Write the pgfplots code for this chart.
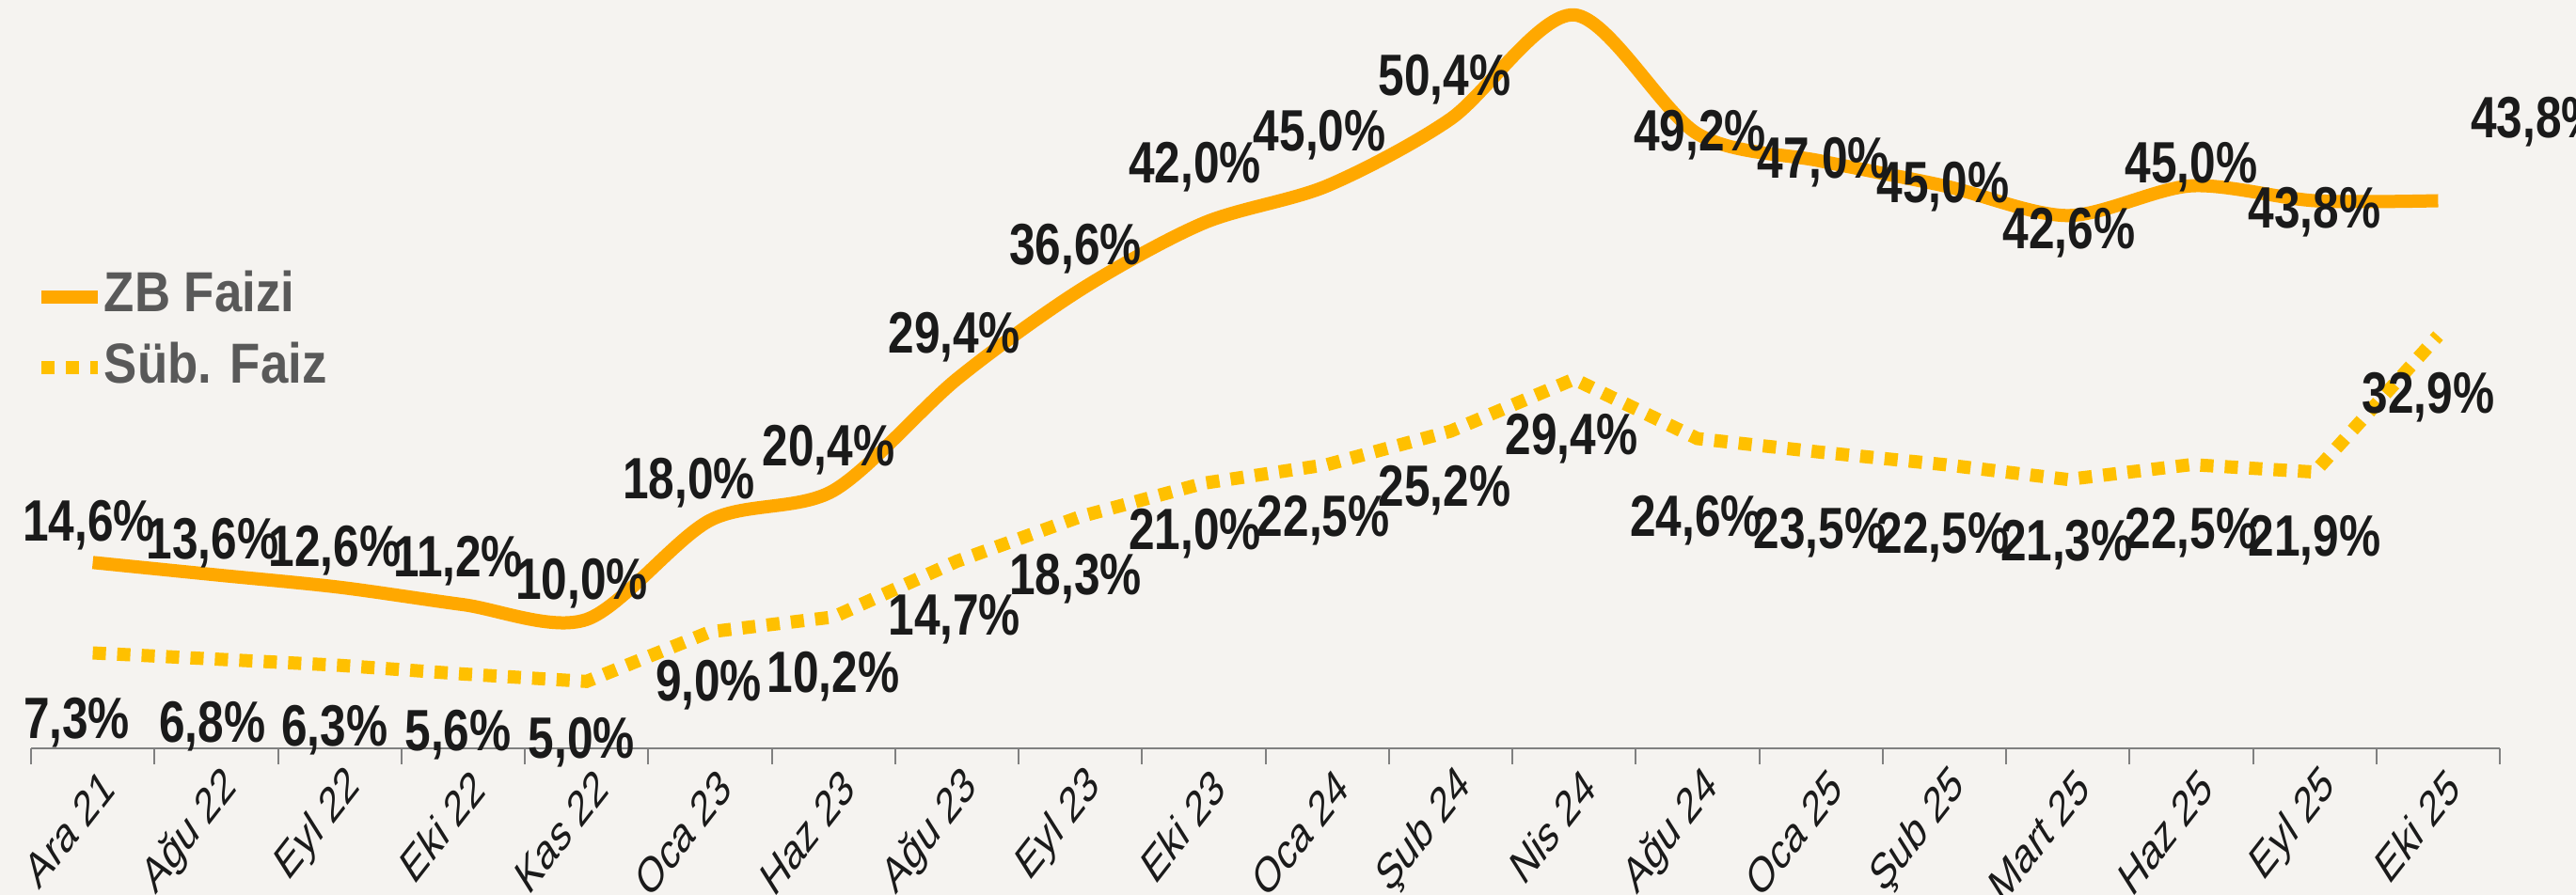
\documentclass[border=0pt]{standalone}
\usepackage{fontspec}
\setmainfont{Liberation Sans}
\usepackage{pgfplots}
\pgfplotsset{compat=1.18}
\usetikzlibrary{calc}
\pgfdeclarelayer{background}
\pgfsetlayers{background,main}
\definecolor{zbc}{RGB}{255,168,0}
\definecolor{subc}{RGB}{255,192,0}
\definecolor{bgc}{RGB}{245,243,240}
\definecolor{axc}{RGB}{128,128,128}
\definecolor{legc}{RGB}{89,89,89}
\definecolor{txt}{RGB}{26,26,26}
\newcommand{\dl}[1]{\scalebox{0.8}[1]{\fontsize{15.5}{15.5}\selectfont\bfseries #1}}
\tikzset{dlab/.style={text=txt, yshift=-2pt, inner sep=0pt}}
\begin{document}
\begin{tikzpicture}
\begin{axis}[
  scale only axis, width=656.25pt, height=199pt,
  xmin=-0.5, xmax=19.5, ymin=-0.4, ymax=60.0,
  axis x line*=bottom, axis y line=none,
  clip=false,
  xtick={0,...,19},
  xticklabels={Ara 21,Ağu 22,Eyl 22,Eki 22,Kas 22,Oca 23,Haz 23,Ağu 23,Eyl 23,Eki 23,Oca 24,Şub 24,Nis 24,Ağu 24,Oca 25,Şub 25,Mart 25,Haz 25,Eyl 25,Eki 25},
  major tick length=0pt,
  minor xtick={-0.5,0.5,...,19.5},
  minor tick length=4.2pt,
  tick align=outside,
  tick style={axc, line width=0.5pt},
  x axis line style={axc, line width=0.6pt},
  xticklabel style={font=\fontsize{13.3}{13.3}\selectfont, text=txt, xscale=0.7, rotate=42, anchor=east, inner sep=0pt, yshift=-10pt, xshift=-1pt},
  legend style={at={(0.0013,0.556)}, anchor=west, draw=none, fill=none, inner sep=0pt,
    font=\fontsize{15}{15}\selectfont\bfseries, text=legc, row sep=4.8pt,
    nodes={text height=11pt, text depth=3pt, inner sep=0pt}},
  legend cell align=left,
  legend image code/.code={\draw[#1, line cap=butt] (0pt,0pt) -- (14.9pt,0pt);},
]
\addplot[zbc, line width=3.5pt, smooth, tension=0.5, line cap=butt] coordinates {
 (0,14.6) (1,13.6) (2,12.6) (3,11.2) (4,10.0) (5,18.0) (6,20.4) (7,29.4) (8,36.6) (9,42.0)
 (10,45.0) (11,50.4) (12,58.8) (13,49.2) (14,47.0) (15,45.0) (16,42.6) (17,45.0) (18,43.8) (19,43.8)};
\addlegendentry{\scalebox{0.88}[1]{ZB Faizi}}
\addplot[subc, line width=3.5pt, dash pattern=on 3.5pt off 3pt, line cap=butt] coordinates {
 (0,7.3) (1,6.8) (2,6.3) (3,5.6) (4,5.0) (5,9.0) (6,10.2) (7,14.7) (8,18.3) (9,21.0)
 (10,22.5) (11,25.2) (12,29.4) (13,24.6) (14,23.5) (15,22.5) (16,21.3) (17,22.5) (18,21.9) (19,32.9)};
\addlegendentry{\scalebox{0.88}[1]{Süb. Faiz}}
% ZB labels
\node[dlab] at (axis cs:-0.03,18.2) {\dl{14,6\%}};
\node[dlab] at (axis cs:0.97,16.8) {\dl{13,6\%}};
\node[dlab] at (axis cs:1.96,16.2) {\dl{12,6\%}};
\node[dlab] at (axis cs:2.96,15.3) {\dl{11,2\%}};
\node[dlab] at (axis cs:3.96,13.5) {\dl{10,0\%}};
\node[dlab] at (axis cs:4.83,21.6) {\dl{18,0\%}};
\node[dlab] at (axis cs:5.96,24.3) {\dl{20,4\%}};
\node[dlab] at (axis cs:6.98,33.4) {\dl{29,4\%}};
\node[dlab] at (axis cs:7.96,40.5) {\dl{36,6\%}};
\node[dlab] at (axis cs:8.93,47.1) {\dl{42,0\%}};
\node[dlab] at (axis cs:9.94,49.7) {\dl{45,0\%}};
\node[dlab] at (axis cs:10.95,54.2) {\dl{50,4\%}};
\node[dlab] at (axis cs:13.02,49.7) {\dl{49,2\%}};
\node[dlab] at (axis cs:14.02,47.5) {\dl{47,0\%}};
\node[dlab] at (axis cs:14.99,45.5) {\dl{45,0\%}};
\node[dlab] at (axis cs:16.01,41.8) {\dl{42,6\%}};
\node[dlab] at (axis cs:17.0,47.1) {\dl{45,0\%}};
\node[dlab] at (axis cs:18.0,43.5) {\dl{43,8\%}};
\node[dlab] at (axis cs:19.8,50.8) {\dl{43,8\%}};
% Sub labels
\node[dlab] at (axis cs:-0.13,2.3) {\dl{7,3\%}};
\node[dlab] at (axis cs:0.97,2.0) {\dl{6,8\%}};
\node[dlab] at (axis cs:1.96,1.7) {\dl{6,3\%}};
\node[dlab] at (axis cs:2.96,1.3) {\dl{5,6\%}};
\node[dlab] at (axis cs:3.96,0.66) {\dl{5,0\%}};
\node[dlab] at (axis cs:4.99,5.3) {\dl{9,0\%}};
\node[dlab] at (axis cs:6.0,6.0) {\dl{10,2\%}};
\node[dlab] at (axis cs:6.98,10.6) {\dl{14,7\%}};
\node[dlab] at (axis cs:7.96,13.9) {\dl{18,3\%}};
\node[dlab] at (axis cs:8.93,17.5) {\dl{21,0\%}};
\node[dlab] at (axis cs:9.97,18.6) {\dl{22,5\%}};
\node[dlab] at (axis cs:10.95,21.0) {\dl{25,2\%}};
\node[dlab] at (axis cs:11.98,25.2) {\dl{29,4\%}};
\node[dlab] at (axis cs:12.99,18.6) {\dl{24,6\%}};
\node[dlab] at (axis cs:13.99,17.6) {\dl{23,5\%}};
\node[dlab] at (axis cs:14.99,17.2) {\dl{22,5\%}};
\node[dlab] at (axis cs:15.99,16.6) {\dl{21,3\%}};
\node[dlab] at (axis cs:17.0,17.6) {\dl{22,5\%}};
\node[dlab] at (axis cs:18.0,17.0) {\dl{21,9\%}};
\node[dlab] at (axis cs:18.92,28.5) {\dl{32,9\%}};
\end{axis}
\pgfresetboundingbox
\path ($(current axis.south west)+(-8.25pt,-39pt)$) coordinate (BL)
      ($(current axis.north east)+(20.25pt,0pt)$) coordinate (TR);
\useasboundingbox (BL) rectangle (TR);
\begin{pgfonlayer}{background}
\fill[bgc] (BL) rectangle (TR);
\end{pgfonlayer}
\end{tikzpicture}
\end{document}
